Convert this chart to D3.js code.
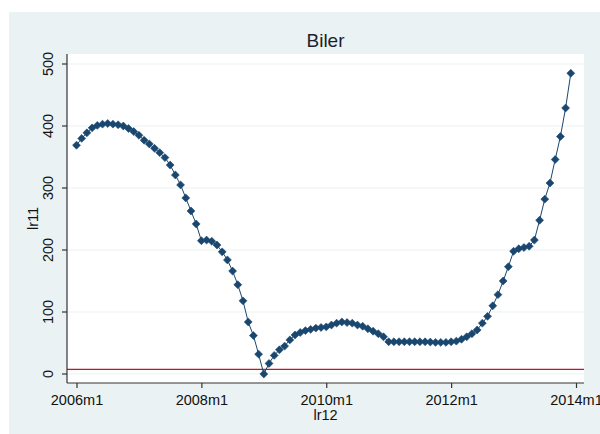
<!DOCTYPE html>
<html>
<head>
<meta charset="utf-8">
<title>Biler</title>
<script src="https://cdn.jsdelivr.net/npm/d3@7"></script>
<style>
  html, body { margin: 0; padding: 0; background: #fff; }
  svg { display: block; font-family: "Liberation Sans", Arial, sans-serif; }
</style>
</head>
<body>
<div id="chart"></div>
<script>
'use strict';

// Monthly series lr11, 2006m1 .. 2013m12
var values2006 = [369, 380, 389, 397, 401, 403, 404, 403, 402, 400, 396, 391];
var values2007 = [385, 377, 371, 364, 357, 349, 337, 321, 305, 284, 263, 242];
var values2008 = [215, 216, 214, 208, 197, 184, 166, 144, 118, 84, 62, 32];
var values2009 = [0, 17, 30, 39, 45, 55, 63, 67, 70, 72, 74, 75];
var values2010 = [76, 79, 82, 84, 83, 82, 79, 77, 73, 69, 65, 60];
var values2011 = [52, 52, 52, 52, 52, 52, 52, 52, 51.5, 51, 51, 51];
var values2012 = [52, 53, 56, 60, 65, 71, 82, 93, 110, 128, 150, 173];
var values2013 = [198, 202, 204, 206, 216, 248, 282, 308, 346, 383, 429, 485];

var startYear = 2006;
var xTickYears = [2006, 2008, 2010, 2012, 2014];
var yTicks = [0, 100, 200, 300, 400, 500];
var refLine = 7.5;

var titleText = 'Biler';
var xTitle = 'lr12';
var yTitle = 'lr11';

var series = [].concat(values2006, values2007, values2008, values2009,
  values2010, values2011, values2012, values2013);

var data = series.map(function(v, i) {
  return { month: i, value: v };
});

var width = 600,
    height = 434,
    panel = { x: 9, y: 12 },
    plot = { left: 67, right: 584, top: 54, bottom: 383 };

var svg = d3.select('#chart').append('svg')
  .attr('width', width)
  .attr('height', height);

// graph region
svg.append('rect')
  .attr('x', panel.x)
  .attr('y', panel.y)
  .attr('width', width - panel.x)
  .attr('height', height - panel.y)
  .attr('fill', '#eaf2f3');

// plot region
svg.append('rect')
  .attr('x', plot.left)
  .attr('y', plot.top)
  .attr('width', plot.right - plot.left)
  .attr('height', plot.bottom - plot.top)
  .attr('fill', '#fff');

var x = d3.scaleLinear()
  .domain([0, (xTickYears[xTickYears.length - 1] - startYear) * 12])
  .range([76.5, 576]);

var y = d3.scaleLinear()
  .domain([0, 500])
  .range([374, 64]);

// gridlines
svg.append('g')
  .attr('class', 'grid')
  .selectAll('line')
  .data(yTicks)
  .enter().append('line')
  .attr('x1', plot.left)
  .attr('x2', plot.right)
  .attr('y1', function(d) { return y(d); })
  .attr('y2', function(d) { return y(d); })
  .attr('stroke', '#eaf2f3')
  .attr('stroke-width', 1.2);

// reference line
svg.append('line')
  .attr('x1', plot.left)
  .attr('x2', plot.right)
  .attr('y1', y(refLine))
  .attr('y2', y(refLine))
  .attr('stroke', '#c8102e')
  .attr('stroke-width', 1.2);

// y axis, labels turned on their side like the original
var yAxis = d3.axisLeft(y)
  .tickValues(yTicks)
  .tickSize(5)
  .tickPadding(5)
  .tickFormat(d3.format('d'));

var yg = svg.append('g')
  .attr('transform', 'translate(' + plot.left + ',0)')
  .call(yAxis);
yg.select('.domain')
  .attr('d', 'M0,' + plot.top + 'V' + plot.bottom);
yg.selectAll('.tick').attr('transform', null);
yg.selectAll('.tick line')
  .attr('y1', function(d) { return y(d); })
  .attr('y2', function(d) { return y(d); });
yg.selectAll('text')
  .attr('x', -10)
  .attr('y', function(d) { return y(d); })
  .attr('dy', '-0.3em')
  .attr('text-anchor', 'middle')
  .attr('transform', function(d) { return 'rotate(-90,-10,' + y(d) + ')'; })
  .style('font-size', '14.5px')
  .attr('fill', '#111');

// x axis
var xAxis = d3.axisBottom(x)
  .tickValues(xTickYears.map(function(yr) { return (yr - startYear) * 12; }))
  .tickSize(5)
  .tickPadding(7)
  .tickFormat(function(m) { return (startYear + m / 12) + 'm1'; });

var xg = svg.append('g')
  .attr('transform', 'translate(0,' + plot.bottom + ')')
  .call(xAxis);
xg.select('.domain')
  .attr('d', 'M' + plot.left + ',0H' + plot.right);
xg.selectAll('text')
  .style('font-size', '14.5px')
  .attr('fill', '#111');

[yg, xg].forEach(function(g) {
  g.attr('font-family', null).attr('font-size', null);
  g.selectAll('.domain, .tick line').attr('stroke', '#333').attr('stroke-width', 1.2);
});

// series line
var line = d3.line()
  .x(function(d) { return x(d.month); })
  .y(function(d) { return y(d.value); });

svg.append('path')
  .datum(data)
  .attr('fill', 'none')
  .attr('stroke', '#1a476f')
  .attr('stroke-width', 1)
  .attr('d', line);

// diamond markers
var diamond = d3.symbol().type(d3.symbolDiamond2).size(40);

svg.append('g')
  .selectAll('path')
  .data(data)
  .enter().append('path')
  .attr('transform', function(d) {
    return 'translate(' + x(d.month) + ',' + y(d.value) + ')';
  })
  .attr('d', diamond)
  .attr('fill', '#1a476f')
  .attr('stroke', '#1a476f')
  .attr('stroke-width', 0.6)
  .attr('stroke-linejoin', 'round');

// titles
svg.append('text')
  .attr('x', (plot.left + plot.right) / 2)
  .attr('y', 47)
  .attr('text-anchor', 'middle')
  .style('font-size', '19px')
  .attr('fill', '#1e1e2e')
  .text(titleText);

svg.append('text')
  .attr('x', (plot.left + plot.right) / 2)
  .attr('y', 420)
  .attr('text-anchor', 'middle')
  .style('font-size', '14.5px')
  .attr('fill', '#111')
  .text(xTitle);

svg.append('text')
  .attr('transform', 'translate(38,' + ((plot.top + plot.bottom) / 2) + ') rotate(-90)')
  .attr('text-anchor', 'middle')
  .style('font-size', '14.5px')
  .attr('fill', '#111')
  .text(yTitle);
</script>
</body>
</html>
